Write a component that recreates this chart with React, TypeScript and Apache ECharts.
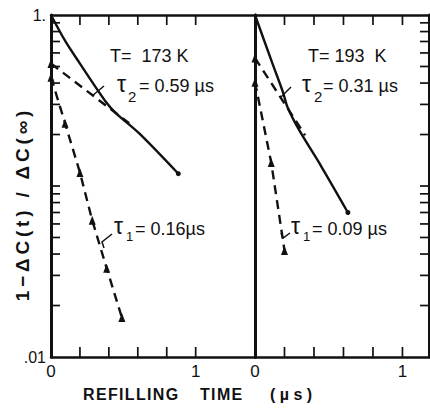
import React, { useEffect, useRef } from "react";
import * as echarts from "echarts";

// ---- data ----
const xTickValues = [0.2, 0.4, 0.6, 0.8, 1.0];
const xLabelValues = [0, 1];
const yTickValues = [
  0.02, 0.03, 0.04, 0.05, 0.06, 0.07, 0.08, 0.09,
  0.1, 0.2, 0.3, 0.4, 0.5, 0.6, 0.7, 0.8, 0.9,
];
const yLabelValues = [0.01, 1];

// T = 173 K panel
const t173Total = [[0, 1.0], [0.1, 0.7], [0.2, 0.52], [0.38, 0.31], [0.45, 0.266], [0.61, 0.203], [0.88, 0.118]];
const t173Tau2 = [[0, 0.52], [0.54, 0.233]];
const t173Tau1 = [[0, 0.433], [0.097, 0.233], [0.2, 0.12], [0.285, 0.063], [0.385, 0.033], [0.49, 0.017]];

// T = 193 K panel
const t193Total = [[0, 1.0], [0.115, 0.53], [0.19, 0.353], [0.22, 0.29], [0.3, 0.212], [0.45, 0.13], [0.63, 0.07]];
const t193Tau2 = [[0, 0.56], [0.34, 0.198]];
const t193Tau1 = [[0, 0.405], [0.11, 0.137], [0.2, 0.042]];

const LEFT_XMAX = 1.41;
const RIGHT_XMAX = 1.18;
const Y_MIN = 0.01;
const Y_MAX = 1;

const FONT = "Liberation Sans";
const INK = "#111";

function solid(data: number[][], xi: number, yi: number) {
  return {
    type: "line",
    xAxisIndex: xi,
    yAxisIndex: yi,
    smooth: 0.3,
    showSymbol: true,
    symbol: "circle",
    symbolSize: 0,
    lineStyle: { color: INK, width: 2.4 },
    itemStyle: { color: INK },
    data: data.map((d, i) =>
      i === data.length - 1 ? { value: d, symbolSize: 5 } : { value: d }
    ),
  };
}

function dashed(data: number[][], xi: number, yi: number, triAll: boolean) {
  return {
    type: "line",
    xAxisIndex: xi,
    yAxisIndex: yi,
    showSymbol: true,
    symbol: "triangle",
    symbolSize: [7, 9],
    lineStyle: { color: INK, width: 2.4, type: [9, 6] },
    itemStyle: { color: INK },
    data: data.map((d, i) =>
      triAll || i === 0 ? { value: d } : { value: d, symbolSize: 0 }
    ),
  };
}

// tick marks drawn through the axes' own scales
function tickSeries(xi: number, yi: number, yAt: number, yDir: number) {
  const data: number[][] = [];
  yTickValues.forEach((v) => data.push([yAt, v, 9 * yDir, 0]));
  xTickValues.forEach((v) => {
    data.push([v, Y_MIN, 0, -10]);
    data.push([v, Y_MAX, 0, 10]);
  });
  return {
    type: "custom",
    xAxisIndex: xi,
    yAxisIndex: yi,
    silent: true,
    clip: false,
    dimensions: ["x", "y", "dx", "dy"],
    encode: { x: 0, y: 1 },
    renderItem: (_p: any, api: any) => {
      const p = api.coord([api.value(0), api.value(1)]);
      return {
        type: "line",
        shape: { x1: p[0], y1: p[1], x2: p[0] + api.value(2), y2: p[1] + api.value(3) },
        style: { stroke: INK, lineWidth: 1.7 },
      };
    },
    data,
  };
}

function xAx(gi: number, pos: "top" | "bottom", max: number, labels: boolean) {
  return {
    type: "value",
    gridIndex: gi,
    position: pos,
    min: 0,
    max,
    axisLine: { show: true, onZero: false, lineStyle: { color: INK, width: 2.5 } },
    axisTick: { show: false },
    axisLabel: {
      show: labels,
      customValues: xLabelValues,
      margin: 6,
      color: INK,
      fontFamily: FONT,
      fontSize: 17,
      formatter: (v: number) => String(Math.round(v)),
    },
    splitLine: { show: false },
  };
}

function yAx(gi: number, pos: "left" | "right", labels: boolean) {
  return {
    type: "log",
    logBase: 10,
    gridIndex: gi,
    position: pos,
    min: Y_MIN,
    max: Y_MAX,
    axisLine: { show: true, onZero: false, lineStyle: { color: INK, width: 3 } },
    axisTick: { show: false },
    axisLabel: {
      show: labels,
      customValues: yLabelValues,
      margin: 5,
      color: INK,
      fontFamily: FONT,
      fontSize: 16,
      formatter: (v: number) => (v >= 0.5 ? "1." : ".01"),
    },
    splitLine: { show: false },
    minorTick: { show: false },
  };
}

function txt(text: string, x: number, y: number, size: number, extra: any = {}) {
  return {
    type: "text",
    x,
    y,
    style: {
      text,
      fill: INK,
      font: `${extra.weight || "normal"} ${size}px "${FONT}"`,
      textAlign: extra.align || "left",
      textVerticalAlign: "middle",
    },
    rotation: extra.rotation || 0,
  };
}

function leader(points: number[][]) {
  return {
    type: "polyline",
    shape: { points },
    style: { stroke: INK, lineWidth: 1.5, fill: "none" },
  };
}

const spaced = (s: string, sep: string) => Array.from(s).join(sep);

export default function App() {
  const ref = useRef<HTMLDivElement>(null);
  useEffect(() => {
    if (!ref.current) return;
    const chart = echarts.init(ref.current, null, { renderer: "svg" });
    chart.setOption({
      animation: false,
      backgroundColor: "#fff",
      grid: [
        { left: 51, top: 15, width: 204, height: 342 },
        { left: 255, top: 15, width: 174, height: 342 },
      ],
      xAxis: [
        xAx(0, "bottom", LEFT_XMAX, true),
        xAx(0, "top", LEFT_XMAX, false),
        xAx(1, "bottom", RIGHT_XMAX, true),
        xAx(1, "top", RIGHT_XMAX, false),
      ],
      yAxis: [
        yAx(0, "left", true),
        yAx(0, "right", false),
        yAx(1, "left", false),
        yAx(1, "right", false),
      ],
      series: [
        tickSeries(0, 0, 0, 1),
        tickSeries(2, 2, RIGHT_XMAX, -1),
        solid(t173Total, 0, 0),
        dashed(t173Tau2, 0, 0, false),
        dashed(t173Tau1, 0, 0, true),
        solid(t193Total, 2, 2),
        dashed(t193Tau2, 2, 2, false),
        dashed(t193Tau1, 2, 2, true),
      ],
      graphic: [
        txt("T=  173 K", 110, 56, 18),
        txt("τ", 117, 84, 23),
        txt("2", 128, 96, 15),
        txt("= 0.59 µs", 139, 86, 18),
        txt("T= 193  K", 308, 56, 18),
        txt("τ", 302, 84, 23),
        txt("2", 314, 96, 15),
        txt("= 0.31 µs", 323, 86, 18),
        txt("τ", 114, 226, 23),
        txt("1", 126, 236, 13),
        txt("= 0.16µs", 135, 229, 18),
        txt("τ", 291, 226, 23),
        txt("1", 303, 236, 13),
        txt("= 0.09 µs", 312, 229, 18),
        leader([[92, 96], [104, 86]]),
        leader([[281, 97], [291, 87]]),
        leader([[112, 234], [102, 242], [104, 248]]),
        leader([[290, 233], [283, 238], [281, 233]]),
        txt(spaced("REFILLING", "\u200A"), 83, 394, 16, { weight: "bold" }),
        txt(spaced("TIME", "\u200A"), 200, 394, 16, { weight: "bold" }),
        txt("( µ s )", 270, 394, 16, { weight: "bold" }),
        txt(spaced("1−ΔC(t) / ΔC(∞)", "\u2009"), 22, 206, 19, { weight: "bold", align: "center", rotation: Math.PI / 2 }),
      ],
    });
    return () => chart.dispose();
  }, []);
  return (
    <div
      ref={ref}
      style={{ position: "absolute", left: 0, top: 0, width: 430, height: 408 }}
    />
  );
}
